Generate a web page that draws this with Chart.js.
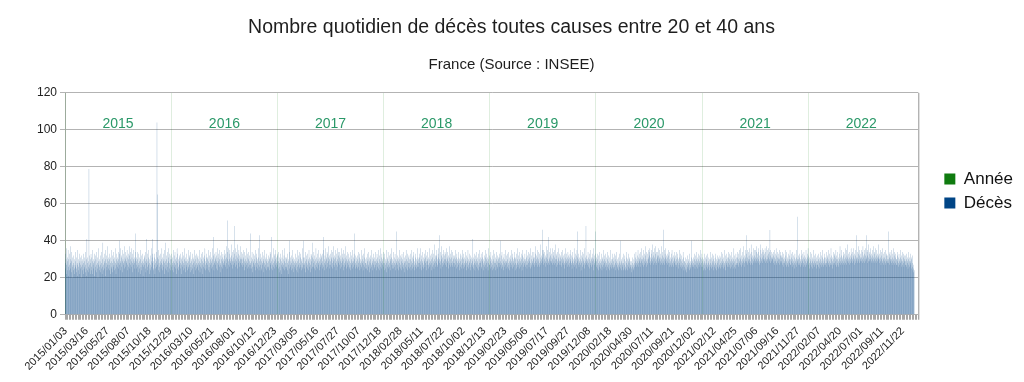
<!DOCTYPE html>
<html><head><meta charset="utf-8">
<script src="https://cdn.jsdelivr.net/npm/chart.js@4/dist/chart.umd.min.js"></script>
<style>html,body{margin:0;padding:0;background:#fff}#wrap{width:1024px;height:382px}</style>
</head><body><div id="wrap"><canvas id="c" width="1024" height="382"></canvas></div>
<script>
const chartTitle = "Nombre quotidien de décès toutes causes entre 20 et 40 ans";
const chartSubtitle = "France (Source : INSEE)";
const seriesNames = ["Année", "Décès"];
const years = [2015, 2016, 2017, 2018, 2019, 2020, 2021, 2022];
const firstDay = [2015, 1, 1];
const lastAxisDay = [2023, 1, 14];
const tickLabelFirst = 2;
const tickLabelStep = 72;
const yearMarkerValue = 120;
const yearTextValue = 103;
const yTickValues = [0, 20, 40, 60, 80, 100, 120];

const deces2015 = [
28,33,25,30,36,22,27,31,24,29,35,26,21,30,27,33,24,28,37,25,30,23,29,34,26,20,31,27,24,32,28,
25,30,22,27,34,26,29,23,31,25,28,35,21,27,30,24,26,33,28,22,29,31,25,27,20,32,26,29,
24,30,27,33,22,28,25,31,26,29,34,23,27,30,25,21,41,28,24,31,26,29,23,79,27,32,25,30,22,28,33,
26,31,24,29,35,22,27,30,25,28,33,21,29,26,32,24,30,27,23,34,28,25,31,20,27,29,36,24,30,26,
29,23,32,27,25,34,28,22,30,26,39,27,31,24,29,33,25,28,21,30,35,26,28,32,24,30,27,37,25,29,31,
27,33,24,30,28,22,31,26,35,29,25,32,23,28,30,26,34,27,24,31,29,36,25,28,22,30,33,27,29,26,
31,28,34,25,30,40,27,33,29,24,36,28,31,26,32,29,23,35,30,27,33,28,25,37,29,31,26,34,30,28,32,
29,35,27,31,24,33,30,26,37,28,32,25,30,34,27,29,36,26,31,28,23,33,30,27,35,29,25,31,28,34,30,
44,27,31,25,29,34,26,30,23,28,33,27,25,31,29,22,30,35,26,28,32,24,29,27,33,21,30,26,28,31,
27,32,25,29,34,23,41,28,30,26,33,24,29,27,31,35,22,28,30,25,32,27,24,36,29,26,31,28,33,41,25,
29,24,31,27,33,22,28,30,25,34,26,29,104,65,31,27,24,30,35,28,26,32,23,29,27,33,25,30,28,36,
27,31,24,29,33,26,30,22,28,35,25,39,29,27,32,24,30,26,34,28,23,31,29,36,25,28,33,27,30,24,32];
const deces2016 = [
30,26,33,28,24,31,27,35,29,23,32,26,28,34,25,30,27,22,31,29,36,25,28,33,26,30,24,29,32,27,31,
28,33,25,30,27,22,31,29,26,34,24,28,32,27,30,25,36,29,23,31,27,33,26,29,24,30,28,35,26,
29,25,32,27,31,23,28,34,26,30,24,29,33,27,25,31,28,22,30,35,26,29,27,32,24,30,28,25,33,27,31,
26,32,28,24,30,35,27,29,23,31,28,26,33,25,30,27,34,22,29,31,26,28,32,25,30,36,27,24,29,31,
28,33,25,30,27,31,24,29,35,26,32,28,23,30,27,34,29,25,31,28,36,26,30,42,27,32,24,29,33,28,31,
30,27,34,25,29,32,28,36,24,31,27,33,29,26,30,35,28,23,32,27,30,34,26,29,31,25,33,28,30,27,
32,29,35,27,30,26,33,28,31,37,25,30,34,51,36,29,27,33,30,26,35,28,31,29,38,27,32,30,25,34,29,
31,27,35,29,33,48,28,30,36,26,32,29,34,27,31,38,25,30,33,28,35,29,26,32,30,37,28,31,27,34,30,
28,33,26,30,35,27,31,24,29,34,28,32,26,30,36,27,29,25,33,28,31,26,30,34,27,29,32,25,28,44,
27,31,25,29,34,26,30,23,28,33,29,26,32,27,30,35,24,28,31,26,33,29,25,30,28,36,27,31,24,43,29,
26,30,27,33,24,29,31,25,28,34,27,30,23,29,32,26,28,35,25,30,27,31,24,29,33,26,28,30,25,32,
29,26,31,24,30,34,27,28,33,25,29,42,27,31,24,30,36,28,26,32,29,25,33,30,27,35,28,31,26,29,33];
const deces2017 = [
27,32,25,29,34,23,28,31,26,30,24,33,27,29,22,31,28,26,35,25,30,27,32,24,29,36,26,28,31,25,30,
26,31,24,28,33,27,29,22,30,25,34,40,27,31,26,29,24,32,28,25,30,35,27,23,29,31,26,28,
30,25,33,27,29,24,31,28,35,26,29,23,32,27,30,25,34,28,26,31,27,33,24,29,30,26,36,28,25,31,27,
40,28,25,31,27,34,29,23,30,26,32,28,25,33,27,30,24,29,35,26,31,28,23,30,27,33,25,29,32,26,
31,39,26,30,28,34,25,29,32,27,24,30,36,28,26,31,29,33,25,30,27,35,28,24,31,29,26,33,30,27,32,
28,31,25,33,29,27,35,26,42,30,28,24,32,29,36,27,31,25,30,34,28,26,33,29,31,37,27,30,25,32,
29,33,27,31,26,35,30,28,34,25,31,29,37,27,32,26,30,35,28,31,24,33,29,27,36,30,26,32,28,34,29,
31,27,34,29,25,32,30,36,28,26,33,29,31,27,35,24,30,28,33,26,31,29,37,27,30,25,32,28,34,29,26,
30,27,33,25,29,31,26,34,28,24,30,27,32,29,25,35,28,31,26,29,33,44,27,30,25,32,28,26,31,29,
27,32,25,30,28,34,26,29,31,24,33,28,27,30,25,35,29,26,32,28,30,24,33,27,29,31,26,36,28,25,30,
28,25,31,27,33,24,29,30,26,34,27,29,23,31,28,32,25,30,27,35,26,29,31,24,28,33,27,30,25,29,
31,26,29,34,27,30,24,28,33,26,31,29,25,35,28,27,32,24,30,29,36,26,28,31,25,33,29,27,30,34,28];
const deces2018 = [
26,31,28,24,33,27,30,25,29,35,28,23,31,26,30,34,27,29,25,32,28,26,33,30,24,29,36,27,31,28,25,
30,27,34,25,29,31,26,28,33,24,30,27,29,45,28,25,32,27,30,24,31,29,35,26,28,30,25,32,
27,31,24,29,33,26,30,28,25,34,27,29,23,31,28,26,32,29,35,25,30,27,33,24,29,31,26,28,32,25,30,
28,33,26,30,24,29,35,27,31,25,28,32,26,30,34,27,24,29,31,26,33,28,25,30,27,36,29,26,31,28,
30,26,33,28,31,25,29,36,27,30,24,32,28,29,34,26,31,27,25,33,29,30,26,35,28,31,24,29,32,27,30,
29,34,27,31,25,30,28,36,26,32,29,27,33,24,30,28,35,26,31,29,27,33,25,30,38,28,26,32,29,31,
32,28,35,27,30,26,33,29,31,36,28,43,30,27,34,29,25,32,30,37,28,31,26,33,29,35,27,30,32,28,34,
30,27,33,29,36,26,31,28,34,30,25,32,29,37,27,31,28,33,26,30,35,28,31,27,29,34,26,32,30,28,31,
28,32,26,30,35,27,29,31,25,33,28,30,26,34,29,27,31,24,30,28,33,26,29,32,27,30,25,35,28,31,
27,30,25,33,28,31,26,29,34,27,30,24,32,28,26,31,29,35,27,30,25,33,28,29,26,32,30,24,31,28,27,
30,26,29,41,27,31,25,33,28,30,24,29,32,27,34,26,30,28,25,31,29,27,33,24,30,28,35,26,29,31,
28,33,26,30,25,31,29,34,27,24,30,28,32,26,29,35,27,31,25,30,28,33,26,29,31,24,36,28,30,27,32];
const deces2019 = [
27,31,25,29,34,26,30,28,24,32,27,29,35,25,30,28,33,26,29,31,24,28,34,27,30,25,32,29,26,31,28,
30,26,33,28,31,40,27,29,25,32,28,34,26,30,27,31,24,29,33,28,26,30,35,27,29,25,32,28,
29,33,26,30,28,25,34,27,31,29,24,32,28,30,26,35,29,27,31,25,33,28,30,26,29,34,27,31,24,30,28,
31,27,33,25,30,28,36,26,29,32,27,30,25,34,28,31,26,29,33,27,30,24,32,28,35,26,29,31,27,30,
28,33,26,30,29,35,27,31,25,32,29,27,34,28,30,26,33,29,31,25,28,36,27,30,32,26,29,34,28,31,27,
30,34,28,31,26,33,29,37,27,30,32,28,35,26,31,29,27,34,30,28,33,26,31,38,29,27,32,30,28,35,
31,46,29,33,27,35,30,28,34,31,26,32,29,37,28,31,33,27,30,35,29,42,28,31,34,27,30,36,29,32,28,
33,29,31,36,27,30,34,28,32,29,35,27,31,30,38,28,33,26,30,32,29,34,27,31,28,36,30,27,33,29,31,
29,32,27,30,34,26,31,28,35,29,27,32,30,25,33,28,31,29,36,27,30,33,28,26,31,29,34,27,30,32,
28,31,26,33,29,30,35,27,32,28,25,31,29,34,27,30,28,36,26,31,29,33,27,30,25,32,28,35,29,31,45,
27,30,33,26,29,31,28,35,27,30,24,32,29,28,34,26,31,29,27,33,30,25,28,36,29,31,27,48,30,28,
32,27,30,29,34,26,31,28,25,33,30,29,27,35,28,31,26,30,33,27,29,31,24,30,36,28,27,32,29,30,33];
const deces2020 = [
45,29,26,31,27,33,25,30,28,24,32,27,29,34,26,30,25,28,33,27,29,24,31,26,30,35,27,29,25,32,28,
30,26,29,33,27,31,24,28,34,26,30,27,25,32,29,28,24,31,27,35,26,29,30,25,28,33,27,30,26,
29,25,31,27,33,26,30,28,24,32,27,29,34,26,30,25,28,31,27,24,29,33,26,28,25,40,27,30,24,29,28,
26,31,27,24,33,28,25,30,27,32,24,29,26,34,28,25,31,27,30,24,29,33,26,28,31,25,30,27,29,26,
27,25,29,23,28,26,31,24,27,25,30,28,33,26,29,31,27,34,28,30,26,32,29,27,35,28,31,26,33,29,30,
31,28,34,26,30,29,36,27,32,30,28,35,26,31,29,33,27,30,37,28,32,29,26,34,30,28,33,27,31,35,
30,34,28,32,36,29,31,27,35,30,33,28,31,38,29,32,27,34,30,36,28,31,33,29,37,27,30,34,28,32,31,
34,29,32,36,28,31,30,35,27,33,29,31,37,28,30,34,27,32,29,46,31,28,35,30,27,33,29,36,31,28,32,
30,33,27,31,29,35,28,32,26,30,34,28,31,27,29,33,26,30,35,28,31,27,29,32,26,30,34,28,31,27,
29,32,27,30,34,26,31,28,33,25,30,29,27,35,28,31,26,30,33,27,29,25,32,28,30,26,34,27,31,24,29,
26,29,24,28,31,25,27,30,23,28,26,32,25,29,27,30,24,28,33,26,29,27,25,31,28,40,26,29,27,30,
28,31,26,30,27,33,25,29,32,27,30,26,34,28,31,25,29,33,27,30,26,32,28,29,35,27,31,26,30,28,33];
const deces2021 = [
29,26,31,27,24,30,28,33,25,29,27,31,24,28,32,26,30,27,25,33,28,29,26,31,24,30,27,34,28,26,30,
27,31,25,29,33,26,28,30,24,32,27,29,26,31,28,25,33,27,30,24,29,32,26,28,31,25,30,27,
30,26,32,28,25,31,27,34,29,26,30,28,33,25,29,31,27,35,28,26,32,29,24,30,28,33,27,31,26,29,34,
28,31,26,30,33,27,29,25,32,28,30,26,34,29,27,31,25,30,28,36,26,29,32,27,30,25,33,28,31,27,
31,28,34,27,30,26,33,29,35,28,31,27,30,36,29,26,32,28,34,30,27,31,29,37,28,32,26,30,35,29,31,
33,29,43,28,31,35,27,30,34,29,32,28,36,30,27,33,29,38,31,28,34,30,27,32,36,29,31,28,35,30,
32,29,35,31,28,34,30,37,29,33,31,28,36,30,34,27,32,29,38,31,28,35,30,33,29,36,31,28,34,30,32,
35,30,33,29,36,31,28,34,30,37,29,32,35,30,28,33,31,36,29,34,30,46,32,28,35,31,29,34,30,33,31,
30,34,28,32,29,35,27,31,33,29,30,36,28,32,27,31,34,29,30,33,28,31,35,27,30,32,29,34,28,31,
29,32,27,31,34,28,30,26,33,29,31,28,35,27,30,32,26,29,34,28,31,27,30,33,29,26,32,30,28,35,27,
30,27,33,29,31,26,28,34,30,27,32,29,25,31,28,33,27,30,29,35,26,31,28,30,53,29,27,32,30,28,
31,27,33,29,30,26,32,28,35,27,30,29,33,26,31,28,34,27,30,32,29,26,31,35,28,30,27,33,29,31,36];
const deces2022 = [
30,27,32,28,25,31,29,34,27,30,26,33,28,29,31,25,30,27,35,28,26,32,29,30,27,33,28,25,31,29,27,
29,32,27,30,26,33,28,31,25,29,34,27,30,28,26,32,29,31,27,35,28,30,26,29,33,27,31,28,
31,27,30,34,28,26,32,29,31,27,35,28,30,26,33,29,27,31,28,36,30,27,32,29,25,31,28,34,30,27,32,
28,33,29,31,27,35,30,26,32,28,30,34,27,31,29,26,33,28,30,37,27,31,29,32,28,35,30,27,31,29,
32,28,34,30,27,33,29,36,31,28,30,35,27,32,29,31,38,28,30,33,29,27,34,31,28,32,30,36,29,31,33,
30,34,28,32,29,36,31,27,33,30,35,28,32,29,31,43,30,28,34,31,29,37,30,33,28,32,35,29,31,30,
33,29,35,31,28,34,30,37,32,29,31,35,28,33,30,36,29,32,31,43,30,34,28,32,35,29,31,38,30,33,29,
34,30,32,36,29,33,31,28,35,30,32,29,37,31,28,34,30,33,29,36,31,28,32,35,30,29,33,31,38,30,32,
31,28,33,30,35,29,31,27,34,30,32,28,36,29,31,33,27,30,34,29,31,28,35,30,27,32,29,33,30,28,
32,29,30,45,28,33,31,27,34,30,29,32,28,35,30,27,33,29,31,36,28,30,32,27,34,29,31,28,33,30,27,
30,27,32,29,34,28,31,26,33,29,30,27,35,28,31,29,26,32,30,34,27,29,31,28,33,26,30,29,32,27,
29,32,27,30,26,33,28,31,29,25,30,34,27,29,31,26,28,33,29,27,30,25,31,28,26,32,24,27,25,23,24];
const decesByYear = [deces2015, deces2016, deces2017, deces2018, deces2019, deces2020, deces2021, deces2022];

const DAY = 86400000;
const t0 = Date.UTC(firstDay[0], firstDay[1] - 1, firstDay[2]);
const tEnd = Date.UTC(lastAxisDay[0], lastAxisDay[1] - 1, lastAxisDay[2]);
const nCats = Math.round((tEnd - t0) / DAY) + 1;
const pad2 = n => String(n).padStart(2, '0');
const dateLabels = [];
for (let i = 0; i < nCats; i++) {
  const d = new Date(t0 + i * DAY);
  dateLabels.push(d.getUTCFullYear() + '/' + pad2(d.getUTCMonth() + 1) + '/' + pad2(d.getUTCDate()));
}
const yearStart = y => Math.round((Date.UTC(y, 0, 1) - t0) / DAY);
const decesData = new Array(nCats).fill(null);
const anneeData = new Array(nCats).fill(null);
years.forEach((y, k) => {
  const s = yearStart(y), e = yearStart(y + 1);
  decesByYear[k].forEach((v, i) => { if (s + i < e) decesData[s + i] = v; });
  anneeData[s] = yearMarkerValue;
});

const FONT = "'Liberation Sans', Arial, sans-serif";
Chart.defaults.font.family = FONT;

const yearTextPlugin = {
  id: 'yearText',
  afterDatasetsDraw(chart) {
    const {ctx, scales: {x, y}} = chart;
    ctx.save();
    ctx.font = '14px ' + FONT;
    ctx.fillStyle = '#2a9868';
    ctx.textAlign = 'center';
    ctx.textBaseline = 'middle';
    years.forEach(yr => {
      const mid = Math.floor((yearStart(yr) + yearStart(yr + 1)) / 2);
      ctx.fillText(String(yr), x.getPixelForValue(mid), y.getPixelForValue(yearTextValue));
    });
    ctx.restore();
  }
};
const framePlugin = {
  id: 'frame',
  afterDraw(chart) {
    const {ctx, chartArea: a} = chart;
    ctx.save();
    ctx.strokeStyle = '#b3b3b3';
    ctx.lineWidth = 1;
    ctx.beginPath();
    ctx.moveTo(Math.round(a.right) + 0.5, a.top);
    ctx.lineTo(Math.round(a.right) + 0.5, a.bottom);
    ctx.stroke();
    ctx.strokeStyle = '#e0e0e0';
    ctx.beginPath();
    ctx.moveTo(Math.round(a.right) + 1.5, a.top);
    ctx.lineTo(Math.round(a.right) + 1.5, a.bottom + 5);
    ctx.stroke();
    ctx.restore();
  }
};

new Chart(document.getElementById('c'), {
  type: 'bar',
  data: {
    labels: dateLabels,
    datasets: [
      {label: seriesNames[0], data: anneeData, backgroundColor: '#0f7b0f', barPercentage: 0.45},
      {label: seriesNames[1], data: decesData, backgroundColor: '#004586'}
    ]
  },
  options: {
    responsive: false,
    animation: false,
    devicePixelRatio: 1,
    datasets: {bar: {grouped: false, categoryPercentage: 1, barPercentage: 0.56, inflateAmount: 0, borderWidth: 0}},
    layout: {padding: {left: 0, right: 1, top: 4, bottom: 4}},
    plugins: {
      title: {display: true, text: chartTitle, color: '#1e1e1e', font: {size: 19.5, weight: 'normal'}, padding: {top: 12, bottom: 16}},
      subtitle: {display: true, text: chartSubtitle, color: '#1e1e1e', font: {size: 15, weight: 'normal'}, padding: {top: 0, bottom: 19.5}},
      legend: {position: 'right', labels: {boxWidth: 11, boxHeight: 11, padding: 7, color: '#111', font: {size: 17}}},
      tooltip: {enabled: false}
    },
    scales: {
      x: {
        ticks: {
          autoSkip: false, minRotation: 45, maxRotation: 45, color: '#222', font: {size: 11}, padding: 5,
          callback(value) { return (value >= tickLabelFirst && (value - tickLabelFirst) % tickLabelStep === 0) ? dateLabels[value] : ''; }
        },
        grid: {drawOnChartArea: false, tickLength: 5, color: c => (c.index % 5 === 0 ? '#a6a6a6' : 'rgba(0,0,0,0)')},
        border: {color: '#b3b3b3'}
      },
      y: {
        min: 0, max: 120,
        afterBuildTicks(s) { s.ticks = yTickValues.map(v => ({value: v})); },
        afterFit(s) { s.width = 65; },
        ticks: {color: '#222', font: {size: 12}, padding: 3},
        grid: {color: '#b3b3b3', tickLength: 5},
        border: {color: '#b3b3b3'}
      },
      yR: {
        position: 'right', display: true,
        grid: {display: false}, ticks: {display: false}, border: {display: false},
        afterFit(s) { s.width = 19; }
      }
    }
  },
  plugins: [yearTextPlugin, framePlugin]
});
</script></body></html>
